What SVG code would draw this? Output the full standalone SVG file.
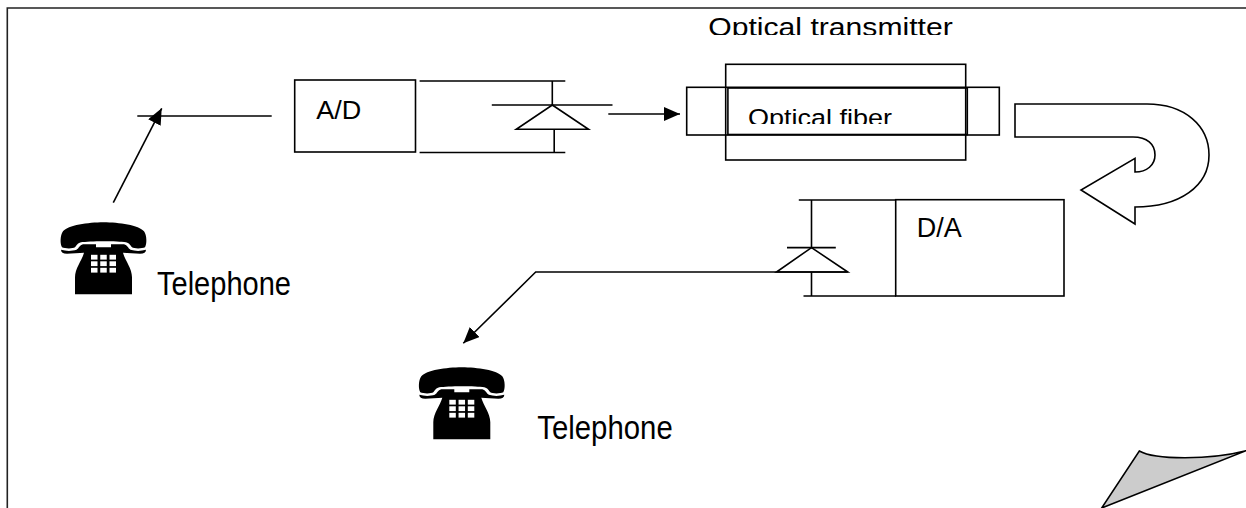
<svg xmlns="http://www.w3.org/2000/svg" width="1246" height="508" viewBox="0 0 1246 508">
  <style>
    .ln { stroke: #000; stroke-width: 1.6; fill: none; }
    .frame { stroke: #222; stroke-width: 1.6; fill: none; }
    .t { font-family: "Liberation Sans", Arial, sans-serif; fill: #000; }
    .ph { fill: #000; }
    .key { fill: #fff; }
  </style>
  <defs>
    <marker id="arrow" markerUnits="userSpaceOnUse" markerWidth="16" markerHeight="14" refX="16" refY="7" orient="auto">
      <path d="M0,0 L16,7 L0,14 Z" fill="#000"/>
    </marker>
    <clipPath id="clipTitle"><rect x="690" y="0" width="320" height="35"/></clipPath>
    <clipPath id="clipFiber"><rect x="728" y="88" width="240" height="36"/></clipPath>
    <g id="phone-icon">
      <path class="ph" d="M2,25 C0,22 0,13 3,9 C8,3 28,0 43.5,0 C59,0 79,3 84,9 C87,13 87,22 85,25 C82,26.5 74,26.5 72,25 C70,23 70,21 66,20 C58,18.5 29,18.5 21,20 C17,21 17,23 15,25 C13,26.5 5,26.5 2,25 Z"/>
      <path class="ph" d="M1,27.5 C6,29 12,29 16.5,27.5 C19,26 19.5,23 23,22 L36,22 L36,25 L51,25 L51,22 L64,22 C67.5,23 68,26 70.5,27.5 C75,29 81,29 86,27.5 C86,30 84,31.5 80,31.5 C75,31.5 68,30.5 63,30.5 C65,38 72,46 72,55 L72,72 L15,72 L15,55 C15,46 22,38 24,30.5 C19,30.5 12,31.5 7,31.5 C3,31.5 1,30 1,27.5 Z"/>
      <rect class="key" x="31" y="32.5" width="6.5" height="4.8"/>
      <rect class="key" x="40.25" y="32.5" width="6.5" height="4.8"/>
      <rect class="key" x="49.5" y="32.5" width="6.5" height="4.8"/>
      <rect class="key" x="31" y="39" width="6.5" height="4.8"/>
      <rect class="key" x="40.25" y="39" width="6.5" height="4.8"/>
      <rect class="key" x="49.5" y="39" width="6.5" height="4.8"/>
      <rect class="key" x="31" y="45.5" width="6.5" height="4.8"/>
      <rect class="key" x="40.25" y="45.5" width="6.5" height="4.8"/>
      <rect class="key" x="49.5" y="45.5" width="6.5" height="4.8"/>
    </g>
  </defs>

  <rect x="0" y="0" width="1246" height="508" fill="#fff"/>

  <g id="frame">
    <path class="frame" d="M7.3,508 L7.3,8 L1246,8"/>
  </g>

  <g id="phone1">
    <use href="#phone-icon" transform="translate(60,222.3)"/>
    <text class="t" x="157" y="294.5" font-size="33" textLength="134" lengthAdjust="spacingAndGlyphs">Telephone</text>
  </g>

  <g id="phone2">
    <use href="#phone-icon" transform="translate(418.3,367.3)"/>
    <text class="t" x="537.3" y="439.3" font-size="32.5" textLength="135.4" lengthAdjust="spacingAndGlyphs">Telephone</text>
  </g>

  <g id="ad-converter">
    <rect class="ln" x="294.7" y="80" width="120.8" height="72"/>
    <text class="t" x="316.3" y="118.5" font-size="26.5" textLength="45" lengthAdjust="spacingAndGlyphs">A/D</text>
    <path class="ln" d="M419.6,81 L565.3,81 M419.6,152.5 L565.3,152.5 M552.3,81 L552.3,105 M491.8,105 L612.5,105 M554.2,129.3 L554.2,152.5"/>
    <path class="ln" d="M552.3,105 L588.5,129.3 L516.3,129.3 Z"/>
  </g>

  <g id="title">
    <text class="t" x="708.3" y="36" font-size="26" textLength="244.4" lengthAdjust="spacingAndGlyphs" clip-path="url(#clipTitle)">Optical transmitter</text>
  </g>

  <g id="fiber">
    <rect class="ln" x="725.7" y="64.3" width="240" height="95.7"/>
    <rect class="ln" x="686.7" y="87.3" width="312.6" height="47.7"/>
    <rect class="ln" x="727.9" y="88" width="239.4" height="46.5" stroke-width="1.2"/>
    <text class="t" x="748" y="125.5" font-size="24.5" textLength="144" lengthAdjust="spacingAndGlyphs" clip-path="url(#clipFiber)">Optical fiber</text>
  </g>

  <g id="uturn-arrow">
    <path class="ln" fill="#fff" d="M1015,104 L1147,104 C1185,104 1209,126 1209,155 C1209,186 1180,207 1135,207 L1135,224 L1081,190 L1135,158.3 L1135,172 C1147,172 1155,165 1155,155 C1155,144 1147,137 1133,137 L1015,137 Z"/>
  </g>

  <g id="da-converter">
    <rect class="ln" x="895.7" y="199.7" width="168.3" height="96.3"/>
    <text class="t" x="916.7" y="237.3" font-size="27.5" textLength="45" lengthAdjust="spacingAndGlyphs">D/A</text>
    <path class="ln" d="M798.8,200 L896,200 M803.5,296 L896,296 M811.5,200 L811.5,247.6 M787,247.6 L835.8,247.6 M811.5,272 L811.5,296"/>
    <path class="ln" d="M811.5,247.6 L847.8,272 L776.5,272 Z"/>
  </g>

  <g id="connectors">
    <path class="ln" d="M137.3,116 L271.7,116"/>
    <path class="ln" d="M113.3,202.7 L161.7,108.3" marker-end="url(#arrow)"/>
    <path class="ln" d="M608.3,114 L680,114" marker-end="url(#arrow)"/>
    <path class="ln" d="M847.8,272 L535.7,272 L463.3,343.3" marker-end="url(#arrow)"/>
  </g>

  <g id="page-curl">
    <path d="M1139.3,451 C1155,460 1210,460 1246,450.7 L1101.7,508 Z" fill="#cccccc" stroke="#000" stroke-width="1.6" stroke-linejoin="miter"/>
  </g>
</svg>
